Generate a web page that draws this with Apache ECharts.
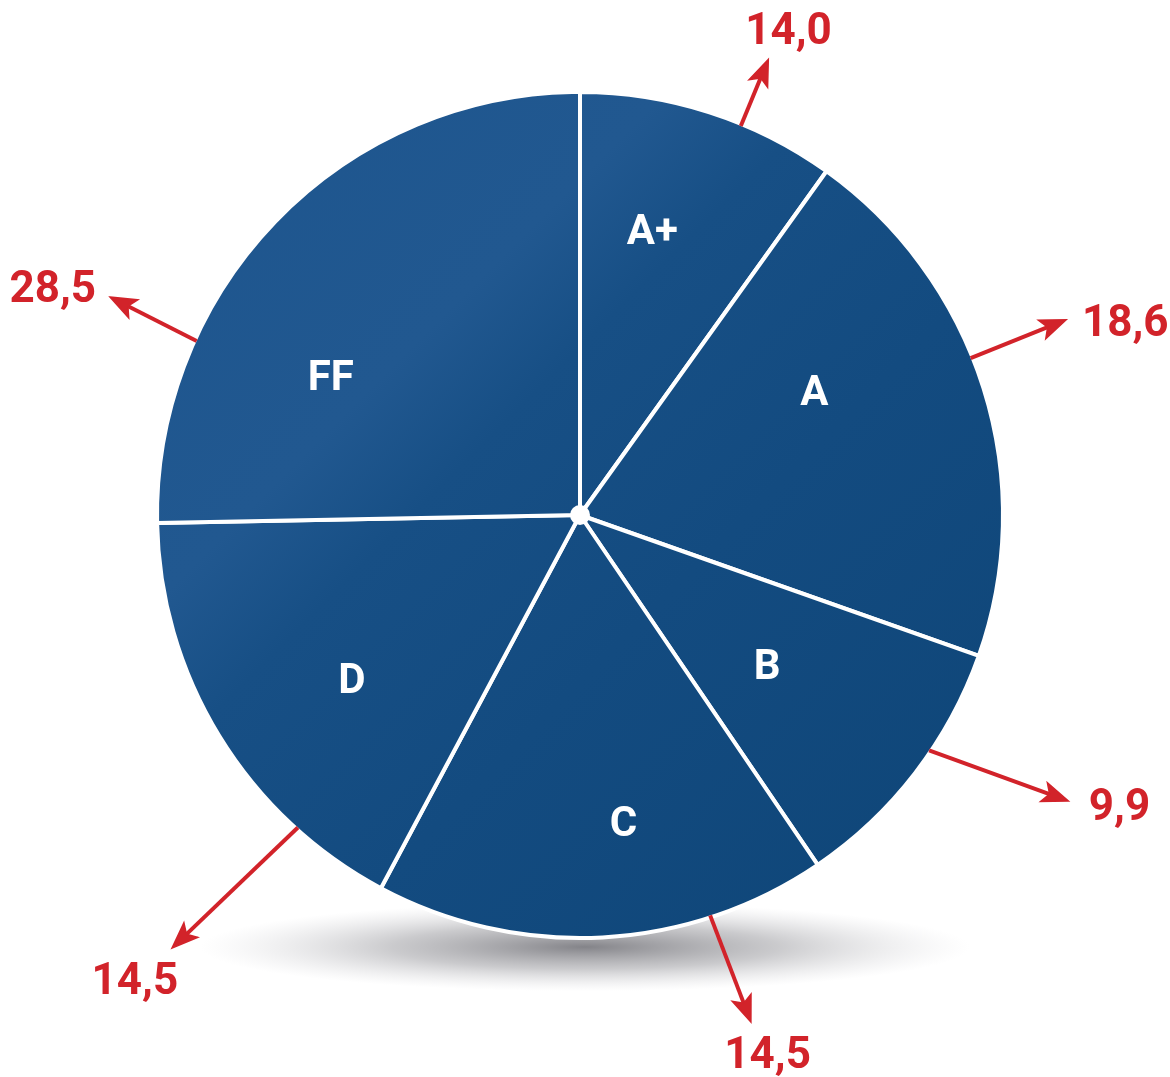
<!DOCTYPE html>
<html>
<head>
<meta charset="utf-8">
<title>Grade distribution</title>
<script src="https://cdn.jsdelivr.net/npm/echarts@6/dist/echarts.min.js"></script>
<style>
    html, body { margin: 0; padding: 0; background: #fff; }
    #main { width: 1170px; height: 1077px; }
</style>
</head>
<body>
<div id="main"></div>
<script>
// grades and the percentages printed at the arrows
var grades = ['A+', 'A', 'B', 'C', 'D', 'FF'];
var percents = [14.0, 18.6, 9.9, 14.5, 14.5, 28.5];
// the original infographic is not drawn to scale, slice sizes read off the picture
var sliceShare = [9.9, 20.5, 10.1, 17.3, 16.9, 25.3];

var CX = 580, CY = 515, R = 421;
var RED = '#d2232a';

// callout placement, as a fraction along each slice (0 = slice start)
var arrowAt = [0.63, 0.44, 0.40, 0.26, 0.23, 0.28];
var tipAt = [0.63, 0.44, 0.30, 0.25, 0.25, 0.285];
var tipR = [493, 524, 566, 535, 595, 518];
var tagAt = [0.65, 0.47, 0.24, 0.24, 0.26, 0.27];
var tagR = [530, 579, 612, 569, 642, 575];
var letterAt = [0.40, 0.36, 0.53, 0.42, 0.43, 0.33];
var letterR = [294, 265, 240, 311, 281, 285];

var startOf = [];
var acc = 0;
sliceShare.forEach(function (s) { startOf.push(acc); acc += s; });

function pos(i, frac) {
    return startOf[i] + sliceShare[i] * frac;
}

function pt(p) {
    return p[0].toFixed(1) + ' ' + p[1].toFixed(1);
}

function renderCallout(params, api) {
    var i = params.dataIndex;
    var p0 = api.coord([R, pos(i, arrowAt[i])]);
    var p1 = api.coord([tipR[i], pos(i, tipAt[i])]);
    var dx = p1[0] - p0[0], dy = p1[1] - p0[1];
    var len = Math.sqrt(dx * dx + dy * dy);
    var ux = dx / len, uy = dy / len, nx = -uy, ny = ux;
    var head = 26, half = 10, notch = 20;
    var b1 = [p1[0] - ux * head + nx * half, p1[1] - uy * head + ny * half];
    var b2 = [p1[0] - ux * head - nx * half, p1[1] - uy * head - ny * half];
    var neck = [p1[0] - ux * notch, p1[1] - uy * notch];
    var t = api.coord([tagR[i], pos(i, tagAt[i])]);
    var l = api.coord([letterR[i], pos(i, letterAt[i])]);
    return {
        type: 'group',
        children: [
            {
                type: 'line',
                shape: { x1: p0[0], y1: p0[1], x2: neck[0] + ux * 2, y2: neck[1] + uy * 2 },
                style: { stroke: RED, lineWidth: 4 }
            },
            {
                type: 'path',
                shape: {
                    pathData: 'M' + pt(p1) + 'L' + pt(b1) + 'L' + pt(neck) + 'L' + pt(b2) + 'Z',
                    layout: 'center'
                },
                style: { fill: RED, stroke: RED, lineWidth: 1.5, lineJoin: 'miter' }
            },
            {
                type: 'text',
                x: t[0], y: t[1] + 5,
                style: {
                    text: api.value(2).toFixed(1).replace('.', ','),
                    fill: RED,
                    font: 'bold 44px Roboto, "DejaVu Sans", sans-serif',
                    align: 'center',
                    verticalAlign: 'middle'
                }
            },
            {
                type: 'text',
                x: l[0], y: l[1] + 3,
                style: {
                    text: grades[i],
                    fill: '#fff',
                    font: 'bold 42px Roboto, "DejaVu Sans", sans-serif',
                    align: 'center',
                    verticalAlign: 'middle'
                }
            }
        ]
    };
}

var chart = echarts.init(document.getElementById('main'));

var blue = new echarts.graphic.LinearGradient(160, 95, 1000, 935, [
    { offset: 0, color: '#1d558e' },
    { offset: 0.3, color: '#215890' },
    { offset: 0.4, color: '#174f85' },
    { offset: 0.6, color: '#134b80' },
    { offset: 1, color: '#0e4577' }
], true);

var option = {
    backgroundColor: '#fff',
    animation: false,
    graphic: [
        {
            // floor shadow under the pie
            type: 'circle',
            x: 585, y: 947,
            scaleY: 0.115,
            z: -10,
            silent: true,
            shape: { cx: 0, cy: 0, r: 385 },
            style: {
                fill: new echarts.graphic.RadialGradient(0.5, 0.5, 0.5, [
                    { offset: 0, color: 'rgba(110,110,116,0.85)' },
                    { offset: 0.5, color: 'rgba(150,150,155,0.5)' },
                    { offset: 1, color: 'rgba(200,200,205,0)' }
                ])
            }
        }
    ],
    polar: {
        center: [CX, CY],
        radius: R
    },
    angleAxis: {
        type: 'value',
        min: 0,
        max: 100,
        startAngle: 90,
        clockwise: true,
        show: false
    },
    radiusAxis: {
        type: 'value',
        min: 0,
        max: R,
        show: false
    },
    series: [
        {
            type: 'pie',
            center: [CX, CY],
            radius: [0, R + 2],
            startAngle: 90,
            clockwise: true,
            silent: true,
            label: { show: false },
            labelLine: { show: false },
            itemStyle: {
                color: blue,
                borderColor: '#fff',
                borderWidth: 4
            },
            data: grades.map(function (g, i) {
                return { name: g, value: sliceShare[i] };
            })
        },
        {
            // white hub in the middle
            type: 'pie',
            center: [CX, CY],
            radius: [0, 10],
            silent: true,
            label: { show: false },
            labelLine: { show: false },
            itemStyle: { color: '#fff' },
            data: [{ value: 1 }]
        },
        {
            type: 'custom',
            coordinateSystem: 'polar',
            silent: true,
            z: 5,
            renderItem: renderCallout,
            data: grades.map(function (g, i) {
                return [R, pos(i, 0.5), percents[i]];
            })
        }
    ]
};

chart.setOption(option);
</script>
</body>
</html>
